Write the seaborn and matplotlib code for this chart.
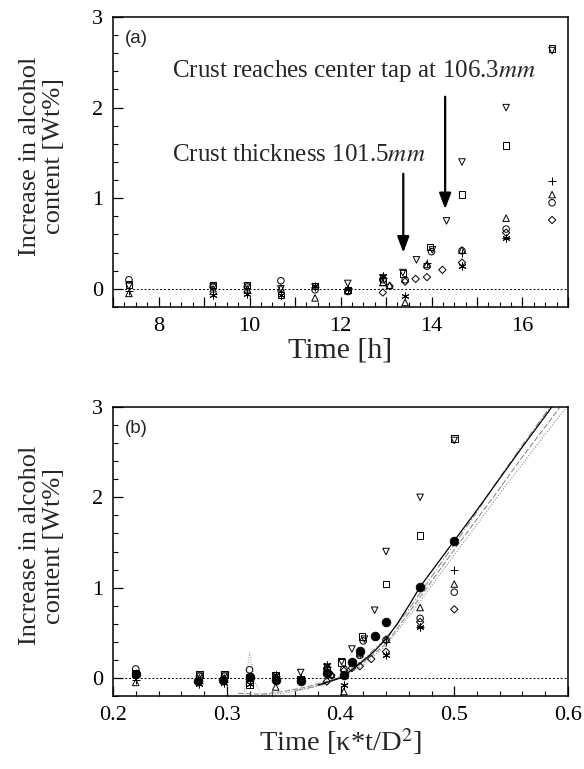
import numpy as np
import pandas as pd
import matplotlib
matplotlib.use("Agg")
import matplotlib.pyplot as plt
from matplotlib.ticker import MultipleLocator, FuncFormatter
import seaborn as sns

sns.set_theme(style="white")
plt.rcParams['font.family'] = ['Liberation Serif', 'DejaVu Serif']
plt.rcParams['mathtext.fontset'] = 'stix'

# ---------------- data ----------------
# time in hours (panel a), dimensionless time (panel b), increase [wt%]
circ_h   = [7.35, 9.2, 9.95, 10.69, 11.44, 12.16, 12.93, 13.42, 13.9, 14.0, 14.67, 15.64, 16.65]
circ_tau = [0.220, 0.276, 0.298, 0.320, 0.343, 0.365, 0.388, 0.403, 0.417, 0.420, 0.440, 0.470, 0.500]
circ_y   = [0.10, 0.02, 0.02, 0.09, -0.01, -0.03, 0.10, 0.10, 0.25, 0.41, 0.42, 0.66, 0.95]

sq_h   = [7.35, 9.2, 9.95, 10.69, 11.44, 12.16, 12.93, 13.37, 13.97, 14.67, 15.64, 16.65]
sq_tau = [0.220, 0.276, 0.298, 0.320, 0.343, 0.365, 0.388, 0.401, 0.419, 0.440, 0.470, 0.500]
sq_y   = [0.05, 0.04, 0.04, -0.07, 0.03, -0.01, 0.08, 0.17, 0.46, 1.04, 1.58, 2.65]

tup_h   = [7.35, 9.2, 9.95, 10.69, 11.44, 12.16, 12.93, 13.08, 13.42, 13.9, 14.67, 15.64, 16.65]
tup_tau = [0.220, 0.276, 0.298, 0.320, 0.343, 0.365, 0.388, 0.392, 0.403, 0.417, 0.440, 0.470, 0.500]
tup_y   = [-0.05, 0.00, 0.00, 0.01, -0.10, -0.02, 0.07, 0.04, -0.15, 0.27, 0.43, 0.78, 1.04]

tdn_h   = [7.35, 9.2, 9.95, 10.69, 11.44, 12.16, 12.93, 13.37, 13.67, 14.02, 14.33, 14.67, 15.64, 16.65]
tdn_tau = [0.220, 0.276, 0.298, 0.320, 0.343, 0.365, 0.388, 0.401, 0.410, 0.421, 0.430, 0.440, 0.470, 0.500]
tdn_y   = [0.03, 0.02, 0.03, 0.00, 0.02, 0.06, 0.12, 0.18, 0.32, 0.43, 0.75, 1.40, 2.00, 2.63]

dia_h   = [12.93, 13.08, 13.42, 13.65, 13.9, 14.24, 14.67, 15.64, 16.65]
dia_tau = [0.388, 0.392, 0.403, 0.410, 0.417, 0.427, 0.440, 0.470, 0.500]
dia_y   = [-0.04, 0.03, 0.08, 0.11, 0.13, 0.21, 0.29, 0.62, 0.76]

plus_h   = [7.35, 9.2, 9.95, 11.44, 12.16, 12.93, 13.9, 14.67, 15.64, 16.65]
plus_tau = [0.220, 0.276, 0.298, 0.343, 0.365, 0.388, 0.417, 0.440, 0.470, 0.500]
plus_y   = [-0.02, -0.06, -0.05, 0.02, 0.01, 0.12, 0.28, 0.40, 0.56, 1.19]

ast_h   = [9.2, 9.95, 10.69, 11.44, 12.16, 12.93, 13.42, 14.67, 15.64]
ast_tau = [0.276, 0.298, 0.320, 0.343, 0.365, 0.388, 0.403, 0.440, 0.470]
ast_y   = [-0.07, -0.06, -0.07, 0.03, 0.00, 0.14, -0.08, 0.25, 0.56]

# filled circles (panel b only)
fill_tau = [0.220, 0.275, 0.297, 0.320, 0.343, 0.365, 0.388, 0.403, 0.410, 0.4175, 0.430, 0.440, 0.470, 0.500]
fill_y   = [0.04, -0.03, -0.02, 0.01, -0.02, -0.03, 0.05, 0.03, 0.18, 0.30, 0.46, 0.62, 1.01, 1.52]

# model curves (panel b)
model_tau = [0.380, 0.390, 0.400, 0.410, 0.420, 0.430, 0.440, 0.450, 0.460, 0.470, 0.480, 0.490, 0.500, 0.520, 0.540, 0.560, 0.580, 0.600]
model_y   = [-0.08, -0.04, 0.00, 0.09, 0.19, 0.30, 0.43, 0.60, 0.80, 1.01, 1.18, 1.35, 1.52, 1.86, 2.21, 2.56, 2.90, 3.25]
g1_tau = [0.310, 0.330, 0.350, 0.370, 0.390, 0.400, 0.420, 0.440, 0.460, 0.480, 0.500, 0.520, 0.540, 0.560, 0.580, 0.600]
g1_y   = [-0.17, -0.18, -0.15, -0.10, -0.03, 0.01, 0.17, 0.38, 0.72, 1.07, 1.42, 1.76, 2.10, 2.45, 2.78, 3.12]
g2_tau = [0.330, 0.350, 0.370, 0.390, 0.400, 0.420, 0.440, 0.460, 0.480, 0.500, 0.520, 0.540, 0.560, 0.580, 0.600]
g2_y   = [-0.19, -0.17, -0.12, -0.05, 0.00, 0.14, 0.36, 0.68, 1.02, 1.36, 1.70, 2.04, 2.37, 2.70, 3.02]
g3_tau = [0.360, 0.380, 0.390, 0.400, 0.420, 0.440, 0.460, 0.480, 0.500, 0.520, 0.540, 0.560, 0.575, 0.590]
g3_y   = [-0.14, -0.09, -0.05, 0.02, 0.20, 0.44, 0.76, 1.12, 1.48, 1.84, 2.22, 2.58, 2.84, 3.10]
g4_tau = [0.315, 0.320, 0.325, 0.330]
g4_y   = [-0.18, 0.28, -0.05, -0.18]

# ---------------- figure ----------------
fig = plt.figure(figsize=(5.84, 7.69), dpi=100)
ax_a = fig.add_axes([0.1935, 0.6008, 0.7791, 0.3771])
ax_b = fig.add_axes([0.1935, 0.0949, 0.7791, 0.3758])

series = [
    ('o', circ_h, circ_tau, circ_y, True),
    ('s', sq_h, sq_tau, sq_y, True),
    ('^', tup_h, tup_tau, tup_y, True),
    ('v', tdn_h, tdn_tau, tdn_y, True),
    ('D', dia_h, dia_tau, dia_y, True),
    ('+', plus_h, plus_tau, plus_y, False),
    ((6, 2, 0), ast_h, ast_tau, ast_y, False),
]

for mk, xh, xt, yy, filled_shape in series:
    for ax, xx in ((ax_a, xh), (ax_b, xt)):
        if filled_shape:
            sz = 14 if mk == 'D' else 22
            sns.scatterplot(x=xx, y=yy, ax=ax, marker=mk, facecolors='none',
                            edgecolor='black', linewidth=0.7, s=sz, zorder=3)
        else:
            sns.scatterplot(x=xx, y=yy, ax=ax, marker=mk, color='black',
                            linewidth=0.7, s=26, zorder=3)

sns.scatterplot(x=fill_tau, y=fill_y, ax=ax_b, marker='o', color='black',
                edgecolor='black', s=40, zorder=4)

for xx, yy, ls, c, lw in [(g1_tau, g1_y, (0, (5, 2)), '0.55', 0.8),
                          (g2_tau, g2_y, (0, (1, 1.5)), '0.55', 0.8),
                          (g3_tau, g3_y, (0, (6, 2, 1, 2)), '0.55', 0.8),
                          (g4_tau, g4_y, (0, (1, 1.5)), '0.6', 0.7),
                          (model_tau, model_y, '-', 'black', 0.9)]:
    sns.lineplot(x=xx, y=yy, ax=ax_b, sort=False, estimator=None,
                 color=c, linewidth=lw, linestyle=ls, zorder=2)

for ax in (ax_a, ax_b):
    ax.axhline(0, color='black', linewidth=0.7, linestyle=(0, (2, 2)), zorder=1)
    ax.set_ylim(-0.2, 3.0)
    ax.yaxis.set_major_locator(MultipleLocator(1))
    ax.yaxis.set_minor_locator(MultipleLocator(0.2))
    ax.tick_params(which='both', direction='in', left=True, bottom=True,
                   top=False, right=False, labelsize=16, pad=7, colors='black')
    ax.tick_params(which='major', length=7, width=0.9)
    ax.tick_params(which='minor', length=3.5, width=0.8)
    for sp in ax.spines.values():
        sp.set_color('black')
        sp.set_linewidth(1.1)
    ax.set_ylabel("Increase in alcohol\ncontent [Wt%]", fontsize=19,
                  linespacing=1.12)
    ax.yaxis.set_label_coords(-0.105, 0.52)

ax_a.set_xlim(7, 17)
ax_a.xaxis.set_major_locator(MultipleLocator(1))
ax_a.xaxis.set_minor_locator(MultipleLocator(0.25))
ax_a.xaxis.set_major_formatter(FuncFormatter(lambda v, p: f"{int(round(v))}" if int(round(v)) % 2 == 0 else ""))
ax_a.set_xlabel("Time [h]", fontsize=21.5, labelpad=1)

ax_b.set_xlim(0.2, 0.6)
ax_b.xaxis.set_major_locator(MultipleLocator(0.1))
ax_b.xaxis.set_minor_locator(MultipleLocator(0.02))
ax_b.xaxis.set_major_formatter(FuncFormatter(lambda v, p: f"{v:.1f}"))
ax_b.set_xlabel("Time [κ*t/D$^2$]", fontsize=20.5, labelpad=1)

ax_a.text(0.025, 0.955, "(a)", transform=ax_a.transAxes, fontsize=13.5,
          family='Liberation Sans', va='top', ha='left')
ax_b.text(0.025, 0.955, "(b)", transform=ax_b.transAxes, fontsize=13.5,
          family='Liberation Sans', va='top', ha='left')

ax_a.text(8.3, 2.40, r"Crust reaches center tap at 106.3$\mathit{mm}$",
          fontsize=18, va='center', ha='left')
ax_a.text(8.3, 1.48, r"Crust thickness 101.5$\mathit{mm}$",
          fontsize=18, va='center', ha='left')
ax_a.annotate("", xy=(13.38, 0.40), xytext=(13.38, 1.27),
              arrowprops=dict(arrowstyle='-|>,head_length=0.8,head_width=0.3',
                              color='black', lw=1.6, shrinkA=0, shrinkB=0))
ax_a.annotate("", xy=(14.30, 0.88), xytext=(14.30, 2.12),
              arrowprops=dict(arrowstyle='-|>,head_length=0.8,head_width=0.3',
                              color='black', lw=1.6, shrinkA=0, shrinkB=0))

fig.savefig("out.png", dpi=100)
